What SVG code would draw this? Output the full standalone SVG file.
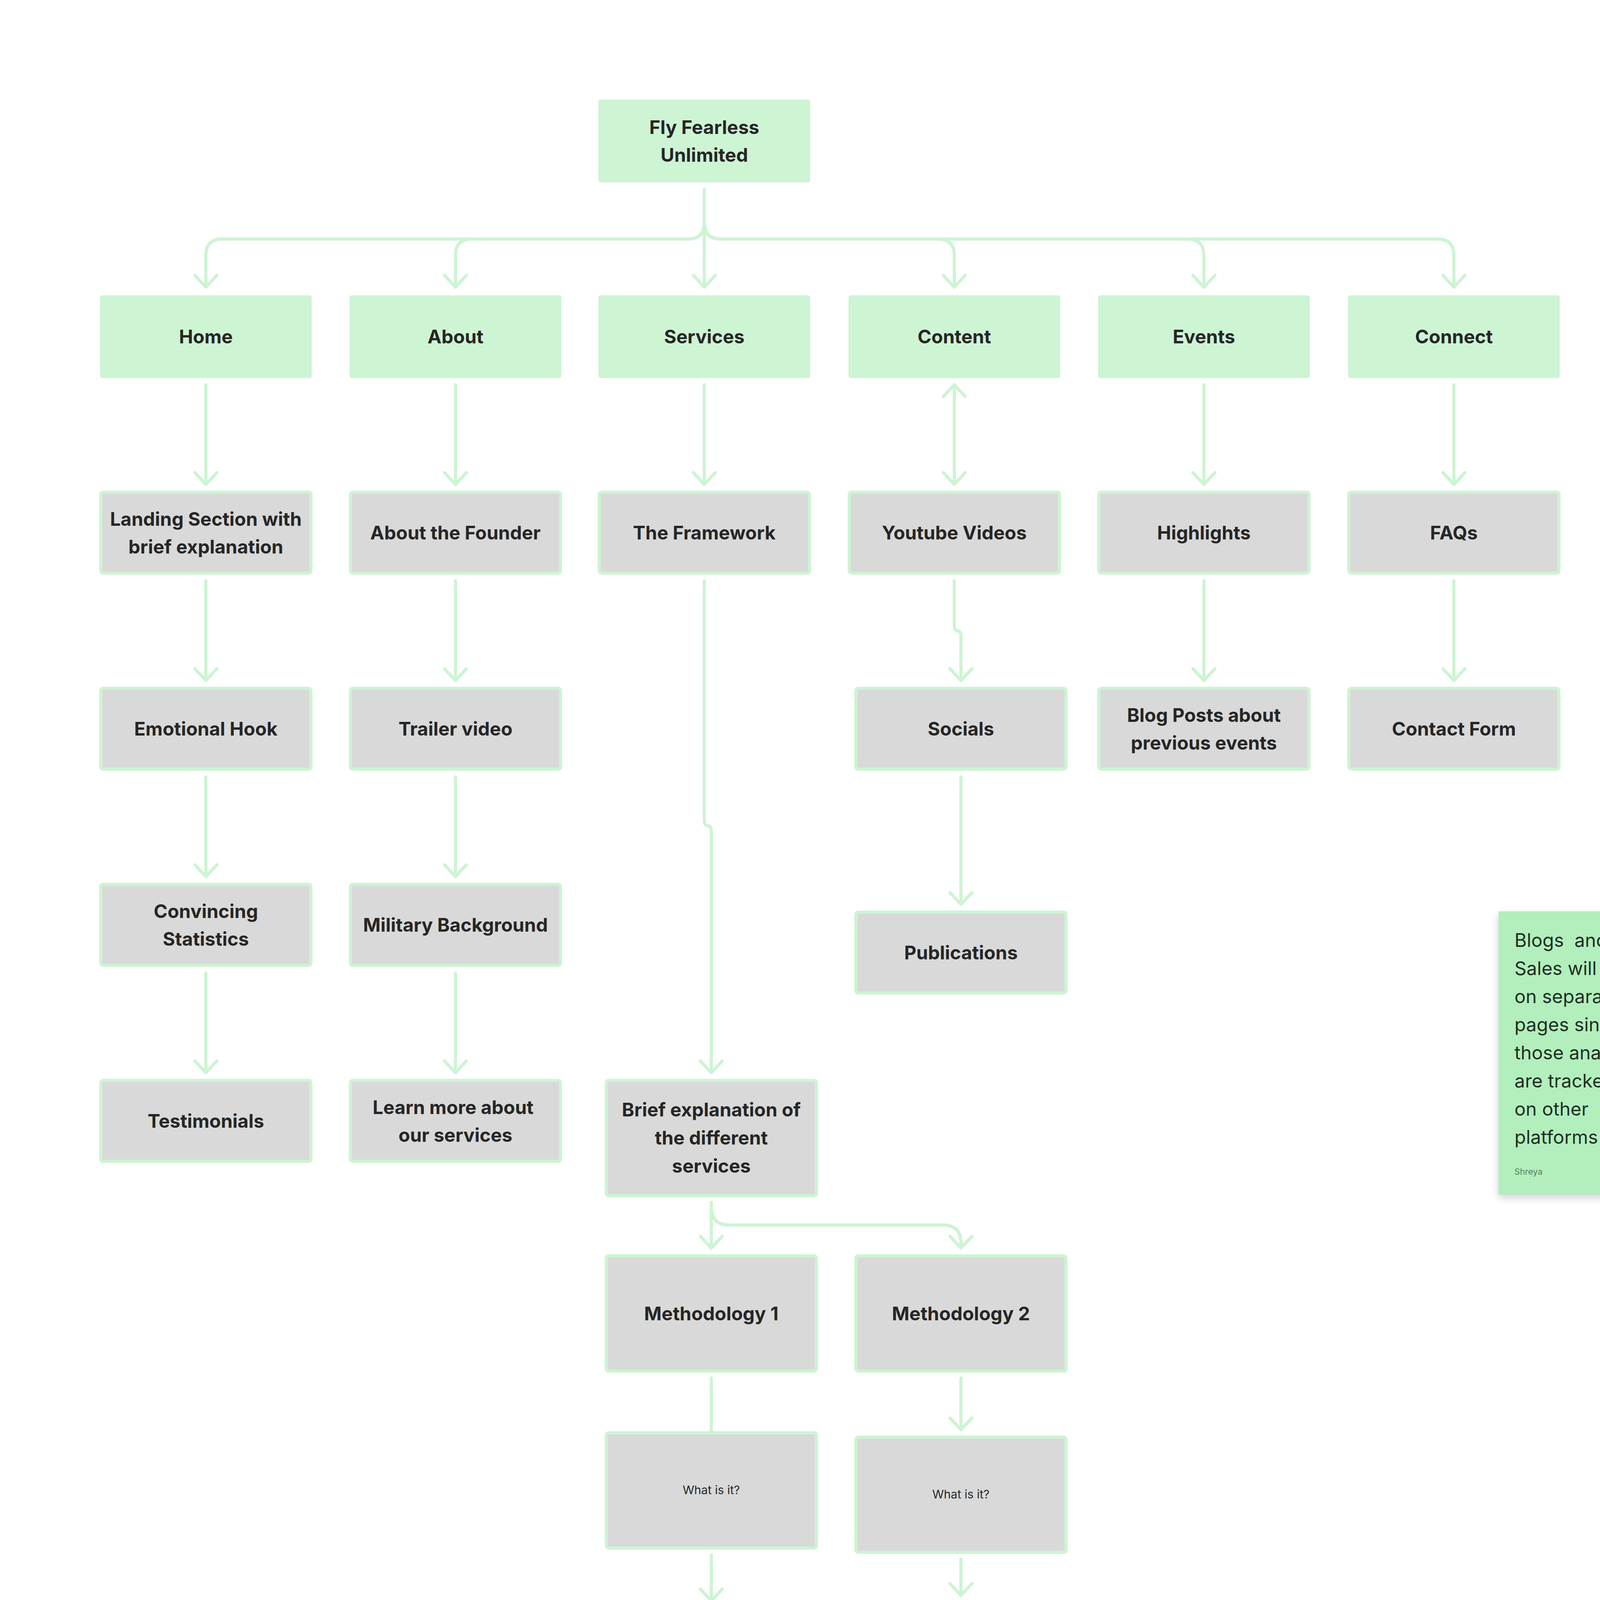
<svg xmlns="http://www.w3.org/2000/svg" width="4596" height="5554" viewBox="0 0 4596 5554">
<defs>
<style>
.g{fill:#cdf4d3}
.n{fill:#d9d9d9;stroke:#cdf4d3;stroke-width:8}
.t{font-family:Inter,"Liberation Sans",sans-serif;font-weight:700;font-size:48px;fill:#262626;text-anchor:middle}
.s{font-family:Inter,"Liberation Sans",sans-serif;font-size:30px;fill:#262626;text-anchor:middle}
.c{fill:none;stroke:#cdf4d3;stroke-width:8;stroke-linecap:round;stroke-linejoin:round}
</style>
<marker id="a" viewBox="-40 -40 50 80" markerWidth="50" markerHeight="80" refX="0" refY="0" orient="auto-start-reverse" markerUnits="userSpaceOnUse"><path d="M-30 -28 L0 0 L-30 28" fill="none" stroke="#cdf4d3" stroke-width="8" stroke-linecap="round" stroke-linejoin="round"/></marker>
<filter id="sh" x="-10%" y="-10%" width="130%" height="130%"><feDropShadow dx="0" dy="8" stdDeviation="10" flood-opacity="0.18"/></filter>
</defs>
<rect width="4596" height="5554" fill="#fff"/>
<g id="connectors" class="c" marker-end="url(#a)">
<path d="M1803 485 V570 Q1803 612 1761 612 H569 Q527 612 527 654 V735"/>
<path d="M1803 570 Q1803 612 1761 612 H1208 Q1166 612 1166 654 V735"/>
<path d="M1803 485 V735"/>
<path d="M1803 570 Q1803 612 1845 612 H2401 Q2443 612 2443 654 V735"/>
<path d="M1803 570 Q1803 612 1845 612 H3040 Q3082 612 3082 654 V735"/>
<path d="M1803 570 Q1803 612 1845 612 H3680 Q3722 612 3722 654 V735"/>
<path d="M527 985 V1240"/><path d="M1166 985 V1240"/><path d="M1803 985 V1240"/>
<path d="M2443 985 V1240" marker-start="url(#a)"/>
<path d="M3082 985 V1240"/><path d="M3722 985 V1240"/>
<path d="M527 1487 V1742"/><path d="M1166 1487 V1742"/>
<path d="M2443 1487 V1600 Q2443 1615 2451 1615 Q2460 1615 2460 1630 V1742"/>
<path d="M3082 1487 V1742"/><path d="M3722 1487 V1742"/>
<path d="M527 1989 V2244"/><path d="M1166 1989 V2244"/>
<path d="M2460 1989 V2315"/>
<path d="M527 2491 V2746"/><path d="M1166 2491 V2746"/>
<path d="M1803 1487 V2100 Q1803 2114 1812 2114 Q1821 2114 1821 2128 V2746"/>
<path d="M1821 3078 V3195"/>
<path d="M1821 3090 Q1821 3136 1867 3136 H2414 Q2460 3136 2460 3182 V3195"/>
<path d="M1821 3528 V3765"/>
<path d="M2460 3528 V3660"/>
<path d="M1821 3981 V4098"/><path d="M2460 3991 V4084"/>
<path d="M1821 4430 V4550"/><path d="M2460 4416 V4550"/>
<path d="M1821 4882 V4970"/><path d="M2460 4882 V4970"/>
</g>
<g id="n0"><rect class="g" x="1532" y="255" width="542" height="212" rx="6"/><text class="t" x="1803" y="343">Fly Fearless</text><text class="t" x="1803" y="414">Unlimited</text></g>
<g id="n1"><rect class="g" x="256" y="756" width="542" height="212" rx="6"/><text class="t" x="527" y="879">Home</text></g>
<g id="n2"><rect class="g" x="895" y="756" width="542" height="212" rx="6"/><text class="t" x="1166" y="879">About</text></g>
<g id="n3"><rect class="g" x="1532" y="756" width="542" height="212" rx="6"/><text class="t" x="1803" y="879">Services</text></g>
<g id="n4"><rect class="g" x="2172" y="756" width="542" height="212" rx="6"/><text class="t" x="2443" y="879">Content</text></g>
<g id="n5"><rect class="g" x="2811" y="756" width="542" height="212" rx="6"/><text class="t" x="3082" y="879">Events</text></g>
<g id="n6"><rect class="g" x="3451" y="756" width="542" height="212" rx="6"/><text class="t" x="3722" y="879">Connect</text></g>
<g id="n7"><rect class="n" x="258" y="1260" width="538" height="207" rx="6"/><text class="t" x="527" y="1346">Landing Section with</text><text class="t" x="527" y="1417">brief explanation</text></g>
<g id="n8"><rect class="n" x="897" y="1260" width="538" height="207" rx="6"/><text class="t" x="1166" y="1381">About the Founder</text></g>
<g id="n9"><rect class="n" x="1534" y="1260" width="538" height="207" rx="6"/><text class="t" x="1803" y="1381">The Framework</text></g>
<g id="n10"><rect class="n" x="2174" y="1260" width="538" height="207" rx="6"/><text class="t" x="2443" y="1381">Youtube Videos</text></g>
<g id="n11"><rect class="n" x="2813" y="1260" width="538" height="207" rx="6"/><text class="t" x="3082" y="1381">Highlights</text></g>
<g id="n12"><rect class="n" x="3453" y="1260" width="538" height="207" rx="6"/><text class="t" x="3722" y="1381">FAQs</text></g>
<g id="n13"><rect class="n" x="258" y="1762" width="538" height="207" rx="6"/><text class="t" x="527" y="1883">Emotional Hook</text></g>
<g id="n14"><rect class="n" x="897" y="1762" width="538" height="207" rx="6"/><text class="t" x="1166" y="1883">Trailer video</text></g>
<g id="n15"><rect class="n" x="2191" y="1762" width="538" height="207" rx="6"/><text class="t" x="2460" y="1883">Socials</text></g>
<g id="n16"><rect class="n" x="2813" y="1762" width="538" height="207" rx="6"/><text class="t" x="3082" y="1848">Blog Posts about</text><text class="t" x="3082" y="1919">previous events</text></g>
<g id="n17"><rect class="n" x="3453" y="1762" width="538" height="207" rx="6"/><text class="t" x="3722" y="1883">Contact Form</text></g>
<g id="n18"><rect class="n" x="258" y="2264" width="538" height="207" rx="6"/><text class="t" x="527" y="2350">Convincing</text><text class="t" x="527" y="2421">Statistics</text></g>
<g id="n19"><rect class="n" x="897" y="2264" width="538" height="207" rx="6"/><text class="t" x="1166" y="2385">Military Background</text></g>
<g id="n20"><rect class="n" x="2191" y="2335" width="538" height="207" rx="6"/><text class="t" x="2460" y="2456">Publications</text></g>
<g id="n21"><rect class="n" x="258" y="2766" width="538" height="207" rx="6"/><text class="t" x="527" y="2887">Testimonials</text></g>
<g id="n22"><rect class="n" x="897" y="2766" width="538" height="207" rx="6"/><text class="t" x="1160" y="2852">Learn more about</text><text class="t" x="1166" y="2923">our services</text></g>
<g id="n23"><rect class="n" x="1552" y="2766" width="538" height="295" rx="6"/><text class="t" x="1821" y="2858">Brief explanation of</text><text class="t" x="1821" y="2930">the different</text><text class="t" x="1821" y="3002">services</text></g>
<g id="n24"><rect class="n" x="1552" y="3215" width="538" height="295" rx="6"/><text class="t" x="1821" y="3380">Methodology 1</text></g>
<g id="n25"><rect class="n" x="2191" y="3215" width="538" height="295" rx="6"/><text class="t" x="2460" y="3380">Methodology 2</text></g>
<g id="n26"><rect class="n" x="1552" y="3668" width="538" height="295" rx="6"/><text class="s" x="1821" y="3825">What is it?</text></g>
<g id="n27"><rect class="n" x="2191" y="3679" width="538" height="295" rx="6"/><text class="s" x="2460" y="3836">What is it?</text></g>
<g id="n28"><rect class="n" x="1552" y="4117" width="538" height="295" rx="6"/><text class="s" x="1821" y="4275">Who is this for?</text></g>
<g id="n29"><rect class="n" x="2191" y="4103" width="538" height="295" rx="6"/><text class="s" x="2460" y="4261">Who is this for?</text></g>
<g id="n30"><rect class="n" x="1552" y="4569" width="538" height="295" rx="6"/><text class="s" x="1821" y="4727">Goals and what you recieve</text></g>
<g id="n31"><rect class="n" x="2191" y="4569" width="538" height="295" rx="6"/><text class="s" x="2460" y="4727">Goals and what you recieve</text></g>
<g id="n32"><rect class="n" x="1552" y="4990" width="538" height="295" rx="6"/><text class="s" x="1821" y="5148">Strong Call to Action</text></g>
<g id="n33"><rect class="n" x="2191" y="4990" width="538" height="295" rx="6"/><text class="s" x="2460" y="5148">Strong Call to Action</text></g>
<g id="note">
<rect x="3836" y="2333" width="478" height="725" fill="#b2efbd" filter="url(#sh)"/>
<g font-family="Inter,'Liberation Sans',sans-serif" font-size="48" fill="#1f2e22">
<text x="3877" y="2424" xml:space="preserve">Blogs  and Book</text>
<text x="3877" y="2496">Sales will remain</text>
<text x="3877" y="2568">on separate</text>
<text x="3877" y="2640">pages since</text>
<text x="3877" y="2712">those analytics</text>
<text x="3877" y="2784">are tracked better</text>
<text x="3877" y="2856">on other</text>
<text x="3877" y="2928">platforms</text>
</g>
<text x="3877" y="3007" font-family="Inter,'Liberation Sans',sans-serif" font-size="22" fill="#5a7a60">Shreya</text>
</g>
</svg>
